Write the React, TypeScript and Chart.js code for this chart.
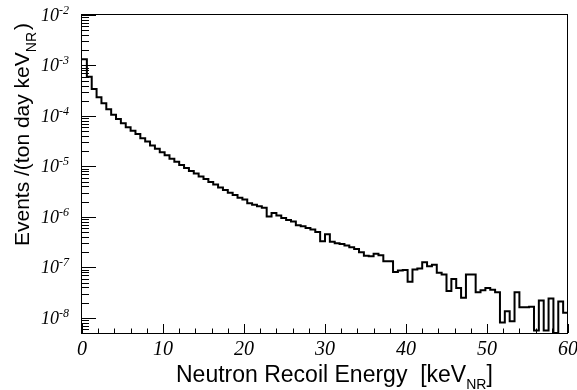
import { useEffect, useRef } from 'react';
import { Chart, registerables } from 'chart.js';

Chart.register(...registerables);

// Histogram: 100 bins of 0.6 keV from 0 to 60 keV
const binWidth = 0.6;
const binStart = 0;
const counts = [
  1.33e-3, 6.0e-4, 3.4e-4, 2.35e-4, 1.78e-4, 1.35e-4, 1.05e-4, 8.7e-5, 7.2e-5, 6.0e-5,
  5.1e-5, 4.4e-5, 3.6e-5, 3.1e-5, 2.6e-5, 2.24e-5, 1.9e-5, 1.66e-5, 1.41e-5, 1.23e-5,
  1.07e-5, 9.3e-6, 8.1e-6, 7.2e-6, 6.3e-6, 5.6e-6, 4.9e-6, 4.4e-6, 3.8e-6, 3.4e-6,
  3.0e-6, 2.7e-6, 2.4e-6, 2.2e-6, 1.86e-6, 1.74e-6, 1.62e-6, 1.51e-6, 1.02e-6, 1.2e-6,
  1.07e-6, 9.5e-7, 8.7e-7, 8.1e-7, 6.8e-7, 6.5e-7, 6.0e-7, 5.6e-7, 5.0e-7, 3.3e-7,
  4.5e-7, 3.2e-7, 3.0e-7, 2.9e-7, 2.7e-7, 2.5e-7, 2.3e-7, 2.0e-7, 1.7e-7, 1.66e-7,
  1.86e-7, 1.74e-7, 1.32e-7, 1.32e-7, 8.1e-8, 8.7e-8, 8.9e-8, 5.2e-8, 9.1e-8, 9.5e-8,
  1.26e-7, 1.05e-7, 1.12e-7, 7.8e-8, 7.2e-8, 3.4e-8, 5.9e-8, 3.9e-8, 2.5e-8, 7.2e-8,
  7.2e-8, 3.2e-8, 3.5e-8, 3.9e-8, 3.6e-8, 3.2e-8, 8.1e-9, 1.35e-8, 8.5e-9, 3.2e-8,
  1.62e-8, 1.62e-8, 1.66e-8, 5.6e-9, 2.2e-8, 5.6e-9, 2.4e-8, 5.0e-9, 2.1e-8, 1.26e-8,
];

const xMin = 0;
const xMax = 60;
const xMajorTickLabels = ['0', '10', '20', '30', '40', '50', '60'];
const xMinorStep = 2;
const yMin = 5e-9;
const yMax = 1e-2;
const yDecadeExponents = [-8, -7, -6, -5, -4, -3, -2];
const xTitle = 'Neutron Recoil Energy  [keV';
const xTitleSub = 'NR';
const xTitleEnd = ']';
const yTitle = 'Events /(ton day keV';
const yTitleSub = 'NR';
const yTitleEnd = ')';

const SERIF_IT = (px: number) => `italic ${px}px "Liberation Serif", "DejaVu Serif", serif`;
const SANS = (px: number) => `${px}px "Liberation Sans", Arial, sans-serif`;

const axesPlugin = {
  id: 'rootAxes',
  afterDraw(chart: any) {
    const { ctx, chartArea, scales } = chart;
    const { left, right, top, bottom } = chartArea;
    const xs = scales.x;
    const ys = scales.y;
    ctx.save();
    ctx.strokeStyle = '#000';
    ctx.fillStyle = '#000';
    ctx.lineWidth = 1;
    // frame
    ctx.strokeRect(left - 0.5, top - 0.5, right - left, bottom - top + 1);

    // y ticks (inside)
    ctx.beginPath();
    for (let e = -9; e <= -2; e++) {
      for (let m = 1; m <= 9; m++) {
        const v = m * Math.pow(10, e);
        if (v < yMin * 0.999 || v > yMax * 1.001) continue;
        const py = Math.round(ys.getPixelForValue(v)) + 0.5;
        const len = m === 1 ? 14 : 7;
        ctx.moveTo(left, py);
        ctx.lineTo(left + len, py);
      }
    }
    // x ticks (inside)
    for (let v = xMin; v <= xMax; v += xMinorStep) {
      const px = Math.round(xs.getPixelForValue(v)) + 0.5;
      const len = v % 10 === 0 ? 9 : 4.5;
      ctx.moveTo(px, bottom);
      ctx.lineTo(px, bottom - len);
    }
    ctx.stroke();

    // x tick labels
    ctx.font = SERIF_IT(20);
    ctx.textAlign = 'center';
    ctx.textBaseline = 'alphabetic';
    xMajorTickLabels.forEach((lab) => {
      const px = xs.getPixelForValue(Number(lab));
      ctx.fillText(lab, px, 355);
    });

    // y tick labels 10^e
    ctx.textAlign = 'left';
    yDecadeExponents.forEach((e) => {
      const py = ys.getPixelForValue(Math.pow(10, e));
      const sup = String(e);
      ctx.font = SERIF_IT(12);
      const ws = ctx.measureText(sup).width;
      ctx.font = SERIF_IT(18);
      const wb = ctx.measureText('10').width;
      const rightEdge = 69;
      ctx.fillText('10', rightEdge - ws - wb, py + 6);
      ctx.font = SERIF_IT(12);
      ctx.fillText(sup, rightEdge - ws, py - 1);
    });

    // x title
    ctx.font = SANS(23);
    let tx = 176;
    ctx.fillText(xTitle, tx, 382);
    tx += ctx.measureText(xTitle).width;
    ctx.font = SANS(14);
    ctx.fillText(xTitleSub, tx, 389);
    tx += ctx.measureText(xTitleSub).width;
    ctx.font = SANS(23);
    ctx.fillText(xTitleEnd, tx, 382);

    // y title (rotated)
    ctx.translate(29, 246);
    ctx.rotate(-Math.PI / 2);
    ctx.font = SANS(21);
    let ty = 0;
    ctx.fillText(yTitle, ty, 0);
    ty += ctx.measureText(yTitle).width;
    ctx.font = SANS(14);
    ctx.fillText(yTitleSub, ty, 7);
    ty += ctx.measureText(yTitleSub).width;
    ctx.font = SANS(21);
    ctx.fillText(yTitleEnd, ty + 2, 0);
    ctx.restore();
  },
};

export default function App() {
  const ref = useRef<HTMLCanvasElement>(null);
  useEffect(() => {
    const points = counts.flatMap((v, i) => [
      { x: binStart + i * binWidth, y: v },
      { x: binStart + (i + 1) * binWidth, y: v },
    ]);
    const chart = new Chart(ref.current as HTMLCanvasElement, {
      type: 'line',
      data: {
        datasets: [
          {
            data: points,
            borderColor: '#000',
            borderWidth: 2,
            pointRadius: 0,
            tension: 0,
            fill: false,
          },
        ],
      },
      options: {
        responsive: false,
        maintainAspectRatio: false,
        animation: false,
        devicePixelRatio: 1,
        layout: { padding: { left: 82, top: 15, right: 9, bottom: 57 } },
        plugins: { legend: { display: false }, tooltip: { enabled: false } },
        scales: {
          x: { type: 'linear', min: xMin, max: xMax, display: false },
          y: { type: 'logarithmic', min: yMin, max: yMax, display: false },
        },
      },
      plugins: [axesPlugin],
    });
    return () => chart.destroy();
  }, []);
  return (
    <div style={{ position: 'fixed', left: 0, top: 0, width: 577, height: 390, background: '#fff' }}>
      <canvas ref={ref} width={577} height={390} style={{ width: 577, height: 390, display: 'block' }} />
    </div>
  );
}
